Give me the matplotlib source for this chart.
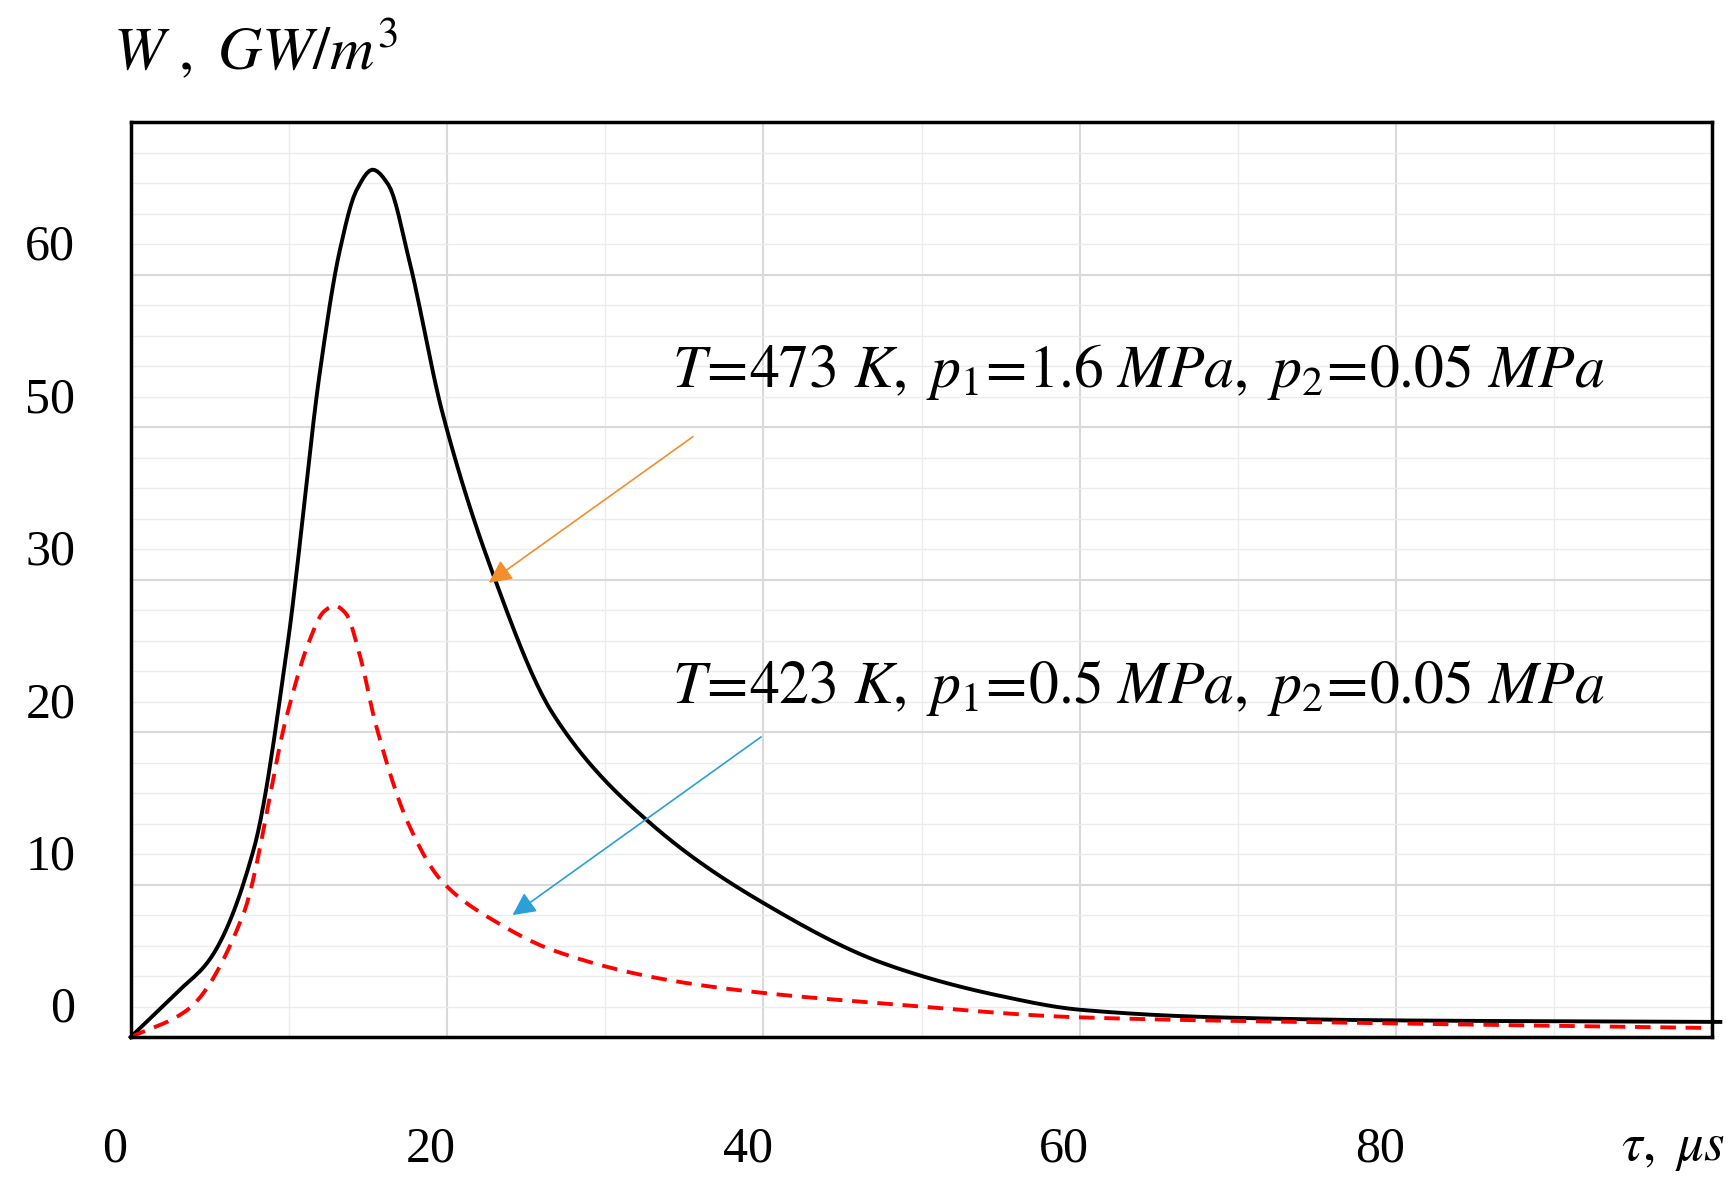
import matplotlib
matplotlib.use("Agg")
import matplotlib.pyplot as plt
from matplotlib.transforms import blended_transform_factory as btf
import numpy as np

plt.rcParams['mathtext.fontset'] = 'stix'
plt.rcParams['font.family'] = 'Liberation Serif'

t_black = [0, 3, 5, 7.8, 9.9, 12, 13.2, 14.3, 15.3, 16.3, 17.6, 19.7, 22.9, 26.7, 33, 40, 47.7, 55, 60, 68.7, 80, 100.5]
w_black = [0, 3.0, 5.1, 12.4, 25.6, 43.9, 51.5, 55.6, 56.9, 55.9, 51.0, 41, 30.4, 21.2, 13.9, 8.8, 4.8, 2.7, 1.8, 1.3, 1.1, 1.0]
t_red = [0, 3.6, 7.1, 9.9, 11.3, 12.2, 12.9, 13.6, 14.5, 15.5, 17.6, 19.7, 23.2, 26.7, 33.7, 40, 47.7, 60, 80, 100]
w_red = [0, 1.8, 8, 21.2, 26.0, 27.9, 28.3, 27.8, 25.0, 20.5, 13.9, 10.2, 7.5, 5.7, 3.8, 2.9, 2.2, 1.3, 0.9, 0.6]
x_ticks = [0, 20, 40, 60, 80]
y_grid = [0, 10, 20, 30, 40, 50]
y_labels = ['0', '10', '20', '30', '50', '60']

def smooth(x, y, n=600):
    x = np.asarray(x, float); y = np.asarray(y, float)
    h = np.diff(x); d = np.diff(y) / h
    m = np.zeros_like(y)
    for k in range(1, len(x) - 1):
        if d[k-1] * d[k] > 0:
            w1 = 2*h[k] + h[k-1]; w2 = h[k] + 2*h[k-1]
            m[k] = (w1 + w2) / (w1/d[k-1] + w2/d[k])
    m[0] = d[0]; m[-1] = d[-1]
    xs = np.linspace(x[0], x[-1], n); ys = np.empty_like(xs)
    for i, xv in enumerate(xs):
        k = min(np.searchsorted(x, xv, side='right') - 1, len(x) - 2)
        tt = (xv - x[k]) / h[k]
        h00 = 2*tt**3 - 3*tt**2 + 1; h10 = tt**3 - 2*tt**2 + tt
        h01 = -2*tt**3 + 3*tt**2; h11 = tt**3 - tt**2
        ys[i] = h00*y[k] + h10*h[k]*m[k] + h01*y[k+1] + h11*h[k]*m[k+1]
    return xs, ys

fig = plt.figure(figsize=(17.35, 12), dpi=100)
ax = fig.add_axes([0.0753, 0.1357, 0.9117, 0.7623])
ax.set_xlim(0, 100); ax.set_ylim(0, 60)
for xv in np.arange(0, 101, 10):
    ax.axvline(xv, color='#d9d9d9' if xv % 20 == 0 else '#ececec', lw=1.5 if xv % 20 == 0 else 1, zorder=0)
for yv in np.arange(0, 61, 2):
    ax.axhline(yv, color='#d9d9d9' if yv % 10 == 0 else '#ececec', lw=1.5 if yv % 10 == 0 else 1, zorder=0)
ax.set_xticks([]); ax.set_yticks([])
for s in ax.spines.values():
    s.set_linewidth(2.5)

xb, yb = smooth(t_black, w_black)
xr, yr = smooth(t_red, w_red)
ax.plot(xb, yb, color='black', lw=2.8, clip_on=False)
ax.plot(xr, yr, color='red', lw=2.8, ls=(0, (4, 2.5)))

tr = btf(ax.transData, ax.transAxes)
for xv in x_ticks:
    ax.text(xv - 1, -0.122, str(xv), transform=tr, ha='center', va='center', fontsize=36)
ax.text(97.5, -0.122, r'$\tau,\ \mu s$', transform=tr, ha='center', va='center', fontsize=38)
tr2 = btf(ax.transAxes, ax.transData)
for yv, lab in zip(y_grid, y_labels):
    ax.text(-0.035, yv + 1.8, lab, transform=tr2, ha='right', va='center', fontsize=36)
fig.text(0.065, 0.958, r'$\mathit{W}\ ,\ \mathit{GW/m^3}$', fontsize=44, ha='left', va='center')

ax.text(34.2, 43.6, r'$\mathit{T\!=\!473\ K,\ p_1\!=\!1.6\ MPa,\ p_2\!=\!0.05\ MPa}$', fontsize=43, ha='left', va='center')
ax.text(34.2, 22.9, r'$\mathit{T\!=\!423\ K,\ p_1\!=\!0.5\ MPa,\ p_2\!=\!0.05\ MPa}$', fontsize=43, ha='left', va='center')
ax.annotate('', xy=(22.5, 29.7), xytext=(35.7, 39.5),
            arrowprops=dict(arrowstyle='-|>', color='#f28e2b', lw=1.2, mutation_scale=35))
ax.annotate('', xy=(24, 7.9), xytext=(40, 19.8),
            arrowprops=dict(arrowstyle='-|>', color='#2a9fd8', lw=1.2, mutation_scale=35))

fig.savefig('out.png', dpi=100)
